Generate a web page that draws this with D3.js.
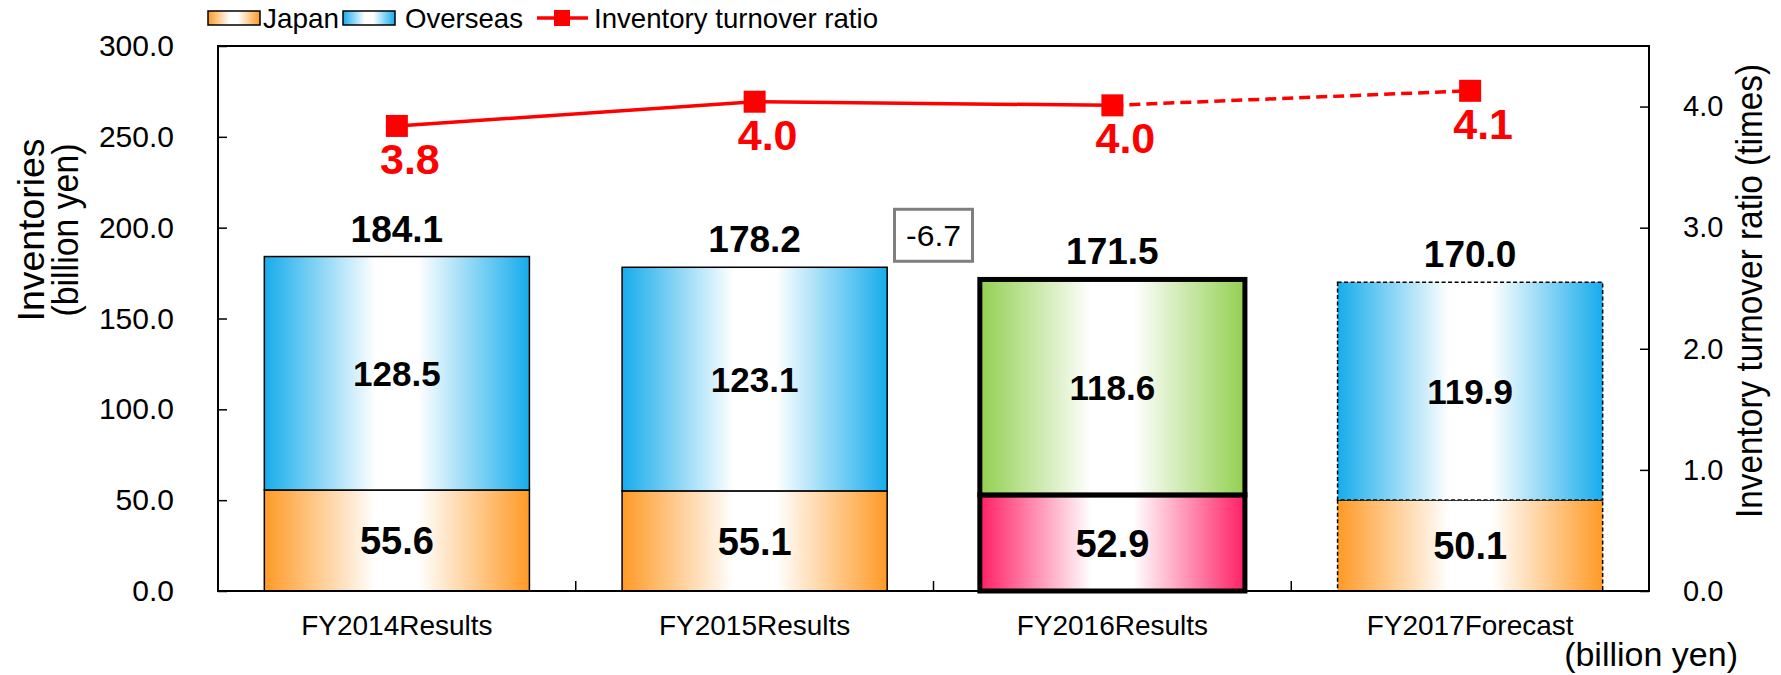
<!DOCTYPE html>
<head>
<meta charset="utf-8">
<script src="https://d3js.org/d3.v7.min.js"></script>
<style>
  html, body { margin: 0; padding: 0; background: #fff; }
  svg { display: block; }
  text { font-family: "Liberation Sans", Arial, sans-serif; }
</style>
</head>
<body>
<svg width="1781" height="675"></svg>
<script>

// chart values
var categories = ["FY2014Results", "FY2015Results", "FY2016Results", "FY2017Forecast"];
var japan = [55.6, 55.1, 52.9, 50.1];
var overseas = [128.5, 123.1, 118.6, 119.9];
var turnover = [3.84, 4.04, 4.01, 4.13];
var leftTicks = [0, 50, 100, 150, 200, 250, 300];
var rightTicks = [0, 1, 2, 3, 4];

// note: "top" is taken by window.top, so plot edges get their own names
var svg = d3.select("svg"),
    plotL = 218, plotR = 1649, plotT = 46, plotB = 591;

var rows = categories.map(function(c, i) {
  return {cat: c, i: i, japan: japan[i], overseas: overseas[i], total: +(japan[i] + overseas[i]).toFixed(1)};
});

var x = d3.scaleBand().domain(categories).range([plotL, plotR])
    .paddingInner(0.259).paddingOuter(0.1295);
var y = d3.scaleLinear().domain([0, 300]).range([plotB, plotT]);
var y2 = d3.scaleLinear().domain([0, 4.5]).range([plotB, plotT]);

// gradients: colour at the edges, white in the middle
var defs = svg.append("defs");
var fills = {orange: "#ff9a26", blue: "#16acec", green: "#92d050", pink: "#ff1f66"};
Object.keys(fills).forEach(function(k) {
  var g = defs.append("linearGradient").attr("id", "g-" + k)
      .attr("x1", "0%").attr("x2", "100%").attr("y1", "0%").attr("y2", "0%");
  [[0, fills[k]], [0.42, "#fff"], [0.58, "#fff"], [1, fills[k]]].forEach(function(s) {
    g.append("stop").attr("offset", s[0]).attr("stop-color", s[1]);
  });
});

function segFill(d, key) {
  if (d.data.i === 2) return key === "japan" ? "url(#g-pink)" : "url(#g-green)";
  return key === "japan" ? "url(#g-orange)" : "url(#g-blue)";
}

// stacked bars
var stack = d3.stack().keys(["japan", "overseas"])(rows);

stack.forEach(function(layer) {
  svg.append("g").selectAll("rect").data(layer).enter().append("rect")
      .attr("x", function(d) { return x(d.data.cat); })
      .attr("width", x.bandwidth())
      .attr("y", function(d) { return y(d[1]); })
      .attr("height", function(d) { return y(d[0]) - y(d[1]); })
      .attr("fill", function(d) { return segFill(d, layer.key); })
      .attr("stroke", "#000")
      .attr("stroke-width", function(d) { return d.data.i === 2 ? 5 : 1.5; })
      .attr("stroke-dasharray", function(d) { return d.data.i === 3 ? "4,2.5" : null; });
});

stack.forEach(function(layer) {
  svg.append("g").selectAll("text").data(layer).enter().append("text")
      .attr("x", function(d) { return x(d.data.cat) + x.bandwidth() / 2; })
      .attr("y", function(d) { return (y(d[0]) + y(d[1])) / 2; })
      .attr("dy", "0.36em")
      .attr("text-anchor", "middle")
      .attr("font-weight", "bold")
      .attr("font-size", layer.key === "japan" ? 38 : 35)
      .text(function(d) { return d.data[layer.key].toFixed(1); });
});

// totals
svg.append("g").selectAll("text").data(rows).enter().append("text")
    .attr("x", function(d) { return x(d.cat) + x.bandwidth() / 2; })
    .attr("y", function(d) { return y(d.total) - 15; })
    .attr("text-anchor", "middle")
    .attr("font-weight", "bold")
    .attr("font-size", 37)
    .text(function(d) { return d.total.toFixed(1); });

// difference box between FY2015 and FY2016
var diff = (rows[2].total - rows[1].total).toFixed(1),
    bx = (x(categories[1]) + x.bandwidth() + x(categories[2])) / 2,
    by = y(rows[1].total) - 32;
svg.append("rect").attr("x", bx - 39).attr("y", by - 26).attr("width", 78).attr("height", 52)
    .attr("fill", "#fff").attr("stroke", "#7f7f7f").attr("stroke-width", 3);
svg.append("text").attr("x", bx).attr("y", by).attr("dy", "0.36em")
    .attr("text-anchor", "middle").attr("font-size", 30)
    .attr("textLength", 55).attr("lengthAdjust", "spacingAndGlyphs")
    .text(diff);

// frame
svg.append("rect").attr("x", plotL).attr("y", plotT).attr("width", plotR - plotL).attr("height", plotB - plotT)
    .attr("fill", "none").attr("stroke", "#000").attr("stroke-width", 2);

// left axis
var yAxis = svg.append("g").attr("transform", "translate(" + plotL + ",0)")
    .call(d3.axisLeft(y).tickValues(leftTicks).tickSize(-9).tickPadding(44)
      .tickFormat(function(d) { return d.toFixed(1); }));
yAxis.select(".domain").remove();
yAxis.selectAll("line").attr("stroke-width", 1.5);
yAxis.selectAll("text").attr("font-size", 30).attr("font-family", "Liberation Sans, Arial, sans-serif");

// right axis
var y2Axis = svg.append("g").attr("transform", "translate(" + plotR + ",0)")
    .call(d3.axisRight(y2).tickValues(rightTicks).tickSize(-9).tickPadding(34)
      .tickFormat(function(d) { return d.toFixed(1); }));
y2Axis.select(".domain").remove();
y2Axis.selectAll("line").attr("stroke-width", 1.5);
y2Axis.selectAll("text").attr("font-size", 29).attr("font-family", "Liberation Sans, Arial, sans-serif");

// category ticks between bars
var bounds = d3.range(categories.length + 1).map(function(i) { return plotL + i * x.step(); });
svg.append("g").selectAll("line").data(bounds).enter().append("line")
    .attr("x1", function(d) { return d; }).attr("x2", function(d) { return d; })
    .attr("y1", plotB).attr("y2", plotB - 10)
    .attr("stroke", "#000").attr("stroke-width", 1.5);

svg.append("g").selectAll("text").data(categories).enter().append("text")
    .attr("x", function(d) { return x(d) + x.bandwidth() / 2; })
    .attr("y", 635)
    .attr("text-anchor", "middle")
    .attr("font-size", 28)
    .text(function(d) { return d; });

// axis titles
svg.append("text").attr("transform", "translate(44,230) rotate(-90)")
    .attr("text-anchor", "middle").attr("font-size", 36)
    .attr("textLength", 183).attr("lengthAdjust", "spacingAndGlyphs")
    .text("Inventories");
svg.append("text").attr("transform", "translate(78,230) rotate(-90)")
    .attr("text-anchor", "middle").attr("font-size", 36)
    .attr("textLength", 173).attr("lengthAdjust", "spacingAndGlyphs")
    .text("(billion yen)");
svg.append("text").attr("transform", "translate(1762,291) rotate(-90)")
    .attr("text-anchor", "middle").attr("font-size", 36)
    .attr("textLength", 454).attr("lengthAdjust", "spacingAndGlyphs")
    .text("Inventory turnover ratio (times)");
svg.append("text").attr("x", 1738).attr("y", 666)
    .attr("text-anchor", "end").attr("font-size", 34)
    .text("(billion yen)");

// turnover line
var pts = rows.map(function(d, i) { return [x(d.cat) + x.bandwidth() / 2, y2(turnover[i])]; });
var line = d3.line();
svg.append("path").attr("d", line(pts.slice(0, 3)))
    .attr("fill", "none").attr("stroke", "#ff0000").attr("stroke-width", 3.5);
svg.append("path").attr("d", line(pts.slice(2)))
    .attr("fill", "none").attr("stroke", "#ff0000").attr("stroke-width", 3.5)
    .attr("stroke-dasharray", "11,6");

svg.append("g").selectAll("rect").data(pts).enter().append("rect")
    .attr("x", function(d) { return d[0] - 11; })
    .attr("y", function(d) { return d[1] - 11; })
    .attr("width", 22).attr("height", 22)
    .attr("fill", "#ff0000");

svg.append("g").selectAll("text").data(pts).enter().append("text")
    .attr("x", function(d) { return d[0] + 13; })
    .attr("y", function(d) { return d[1] + 48; })
    .attr("text-anchor", "middle")
    .attr("font-weight", "bold")
    .attr("font-size", 43)
    .attr("fill", "#ff0000")
    .text(function(d, i) { return turnover[i].toFixed(1); });

// legend
var legend = svg.append("g");
[["orange", 208, 263, 76, "Japan"], ["blue", 343, 405, 118, "Overseas"]].forEach(function(l) {
  legend.append("rect").attr("x", l[1]).attr("y", 11).attr("width", 52).attr("height", 14)
      .attr("fill", "url(#g-" + l[0] + ")").attr("stroke", "#000").attr("stroke-width", 1.5);
  legend.append("text").attr("x", l[2]).attr("y", 28).attr("font-size", 28)
      .attr("textLength", l[3]).attr("lengthAdjust", "spacingAndGlyphs").text(l[4]);
});
legend.append("line").attr("x1", 537).attr("x2", 588).attr("y1", 18).attr("y2", 18)
    .attr("stroke", "#ff0000").attr("stroke-width", 3.5);
legend.append("rect").attr("x", 554).attr("y", 10).attr("width", 16).attr("height", 16).attr("fill", "#ff0000");
legend.append("text").attr("x", 594).attr("y", 28).attr("font-size", 28)
    .attr("textLength", 284).attr("lengthAdjust", "spacingAndGlyphs")
    .text("Inventory turnover ratio");

</script>
</body>
